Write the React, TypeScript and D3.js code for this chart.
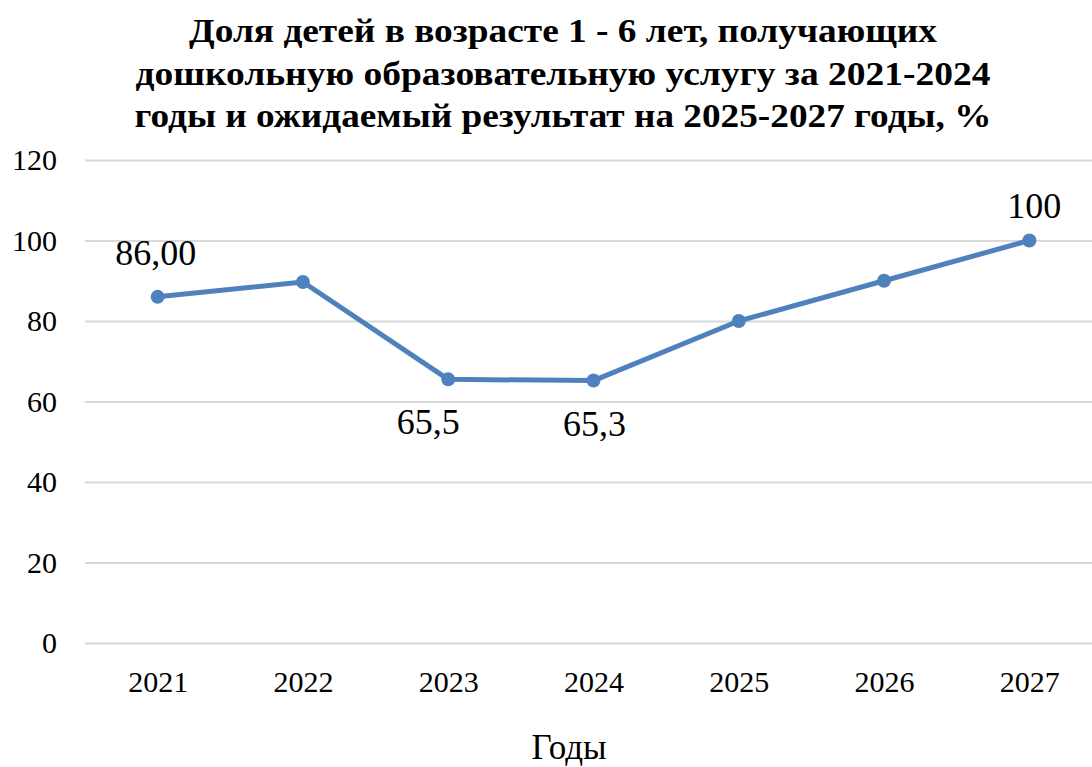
import React, { useEffect, useRef } from 'react';
import * as d3 from 'd3';

const years = ['2021', '2022', '2023', '2024', '2025', '2026', '2027'];
const shares = [86, 89.7, 65.5, 65.2, 80, 90, 100];
const yTicks = [0, 20, 40, 60, 80, 100, 120];
// only some points carry a label in the original
const pointLabels = [
  { year: '2021', text: '86,00', side: 'above' },
  { year: '2023', text: '65,5', side: 'below' },
  { year: '2024', text: '65,3', side: 'below' },
  { year: '2027', text: '100', side: 'above' },
];
const titleLines = [
  'Доля детей в возрасте 1 - 6 лет, получающих',
  'дошкольную образовательную услугу за 2021-2024',
  'годы и ожидаемый результат на 2025-2027 годы, %',
];
const xTitle = 'Годы';

const W = 1092;
const H = 767;
const FONT = 'Liberation Serif, Times New Roman, DejaVu Serif, serif';
const LINE_COLOR = '#4f81bd';

export default function App() {
  const ref = useRef<SVGSVGElement>(null);

  useEffect(() => {
    const svg = d3.select(ref.current);
    svg.selectAll('*').remove();

    const plotLeft = 85;
    const plotRight = 1102; // last band runs a little past the page edge
    const top = 160;
    const bottom = 643;

    const x = d3.scalePoint<string>()
      .domain(years)
      .range([plotLeft, plotRight])
      .padding(0.5);

    const y = d3.scaleLinear()
      .domain([0, 120])
      .range([bottom, top]);

    // title, squeezed to the widths the chart used
    const titleWidths = [748, 855, 857];
    svg.append('g')
      .selectAll('text')
      .data(titleLines)
      .enter().append('text')
      .attr('x', 563)
      .attr('y', (d, i) => 42 + i * 42.5)
      .attr('text-anchor', 'middle')
      .style('font-family', FONT)
      .attr('font-weight', 'bold')
      .attr('font-size', 34)
      .attr('textLength', (d, i) => titleWidths[i])
      .attr('lengthAdjust', 'spacingAndGlyphs')
      .attr('fill', '#000')
      .text(d => d);

    // horizontal gridlines
    svg.append('g')
      .attr('transform', `translate(${plotLeft},0)`)
      .call(
        d3.axisLeft(y)
          .tickValues(yTicks)
          .tickSize(-(plotRight - plotLeft))
          .tickFormat(() => '')
      )
      .call(g => g.select('.domain').remove())
      .call(g => g.selectAll('line').attr('stroke', '#d9d9d9').attr('stroke-width', 2));

    // y labels
    svg.append('g')
      .attr('transform', 'translate(57,0)')
      .call(d3.axisLeft(y).tickValues(yTicks).tickSize(0).tickPadding(0))
      .call(g => g.select('.domain').remove())
      .call(g => g.selectAll('text')
        .style('font-family', FONT)
        .attr('font-size', 30)
        .attr('fill', '#000')
        .attr('dy', '0.33em'));

    // x labels
    svg.append('g')
      .attr('transform', `translate(0,${bottom})`)
      .call(d3.axisBottom(x).tickSize(0).tickPadding(0))
      .call(g => g.select('.domain').remove())
      .call(g => g.selectAll('text')
        .style('font-family', FONT)
        .attr('font-size', 30)
        .attr('fill', '#000')
        .attr('y', 49)
        .attr('dy', 0));

    svg.append('text')
      .attr('x', 569)
      .attr('y', 759)
      .attr('text-anchor', 'middle')
      .style('font-family', FONT)
      .attr('font-size', 35)
      .attr('fill', '#000')
      .text(xTitle);

    const points = years.map((yr, i) => ({ year: yr, value: shares[i] }));

    const line = d3.line<{ year: string; value: number }>()
      .x(d => x(d.year) as number)
      .y(d => y(d.value));

    svg.append('path')
      .datum(points)
      .attr('fill', 'none')
      .attr('stroke', LINE_COLOR)
      .attr('stroke-width', 5)
      .attr('stroke-linejoin', 'round')
      .attr('d', line);

    svg.selectAll('.dot')
      .data(points)
      .enter().append('circle')
      .attr('class', 'dot')
      .attr('cx', d => x(d.year) as number)
      .attr('cy', d => y(d.value))
      .attr('r', 7)
      .attr('fill', LINE_COLOR);

    // hand-nudged label offsets, like the original
    const nudge: Record<string, [number, number]> = {
      '2021': [-2, -32],
      '2023': [-20, 55],
      '2024': [1, 55],
      '2027': [5, -23],
    };
    svg.selectAll('.lbl')
      .data(pointLabels)
      .enter().append('text')
      .attr('class', 'lbl')
      .attr('x', d => (x(d.year) as number) + nudge[d.year][0])
      .attr('y', d => y(shares[years.indexOf(d.year)]) + nudge[d.year][1])
      .attr('text-anchor', 'middle')
      .style('font-family', FONT)
      .attr('font-size', 36)
      .attr('fill', '#000')
      .text(d => d.text);
  }, []);

  return (
    <div style={{ position: 'absolute', left: 0, top: 0 }}>
      <svg ref={ref} width={W} height={H} style={{ display: 'block', background: '#fff' }} />
    </div>
  );
}
